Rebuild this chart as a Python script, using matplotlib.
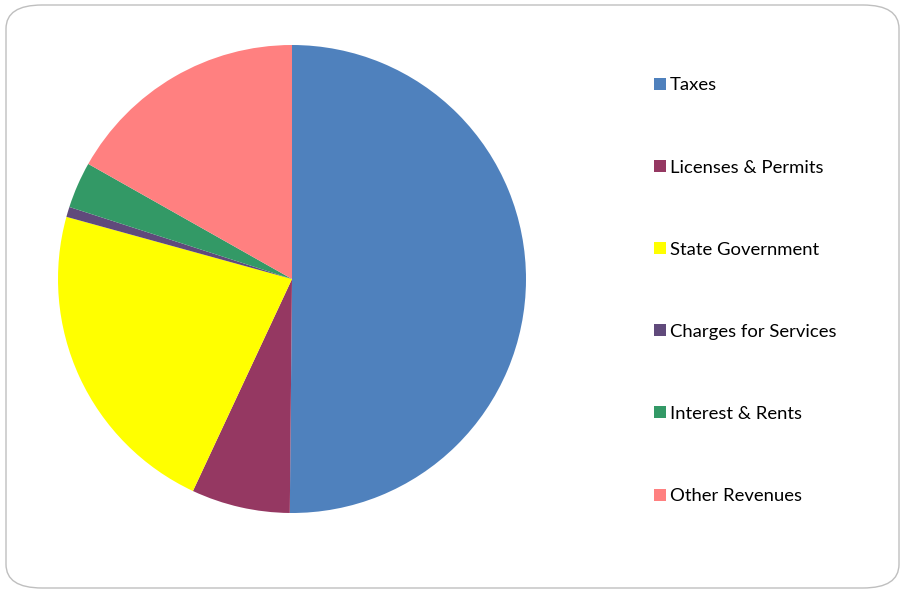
import matplotlib
matplotlib.use("Agg")
import matplotlib.pyplot as plt
from matplotlib.patches import FancyBboxPatch

plt.rcParams['font.family'] = ['Lato', 'DejaVu Sans']

categories = ['Taxes', 'Licenses & Permits', 'State Government',
              'Charges for Services', 'Interest & Rents', 'Other Revenues']
shares = [50.1, 6.8, 22.3, 0.7, 3.2, 16.8]
colors = ['#4F81BD', '#953862', '#FFFF00', '#604A7B', '#339966', '#FF8080']

W, H = 902, 591
fig = plt.figure(figsize=(W / 100, H / 100), dpi=100)

# rounded chart-area border
border = FancyBboxPatch((6 / W, 3 / H), 893 / W, 583 / H,
                        boxstyle="round,pad=0,rounding_size=0.04",
                        transform=fig.transFigure, facecolor='white',
                        edgecolor='#BFBFBF', linewidth=1.0, zorder=0)
fig.patches.append(border)

cx, cy, r = 292, 279, 234
ax = fig.add_axes([(cx - r) / W, (H - cy - r) / H, 2 * r / W, 2 * r / H])
ax.set_zorder(2)
wedges, _ = ax.pie(shares, colors=colors, startangle=90, counterclock=False,
                   radius=1, wedgeprops=dict(linewidth=0))
ax.set_xlim(-1, 1)
ax.set_ylim(-1, 1)
ax.set_aspect('equal')
ax.axis('off')

leg = fig.legend(wedges, categories, loc='upper left',
                 bbox_to_anchor=(647 / W, 1 - 70 / H),
                 frameon=False, fontsize=13.3, handlelength=0.62,
                 handleheight=0.62, handletextpad=0.22, labelspacing=3.58,
                 borderaxespad=0)
leg.set_zorder(3)

fig.savefig('out.png', dpi=100)
